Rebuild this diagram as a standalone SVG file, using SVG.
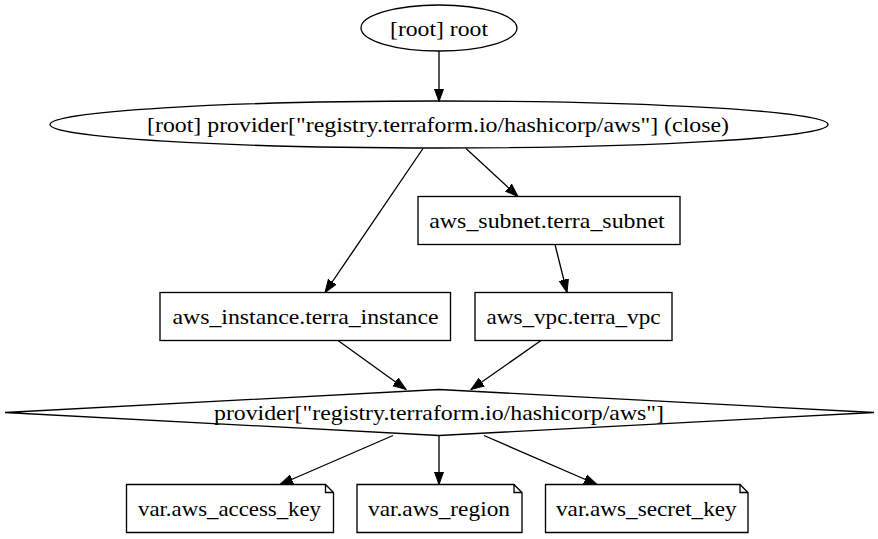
<svg xmlns="http://www.w3.org/2000/svg" width="878" height="539" viewBox="0 0 878 539">
<style>
.n{fill:none;stroke:#000;stroke-width:1.33}
.t{font-family:"Liberation Serif","Times New Roman",serif;font-size:21.5px;text-anchor:middle;fill:#000}
.e{fill:none;stroke:#000;stroke-width:1.33}
</style>
<defs>
<marker id="ah" markerUnits="userSpaceOnUse" markerWidth="14" markerHeight="12" refX="13" refY="5" orient="auto" viewBox="0 0 14 10">
<path d="M0,0.3 L13,5 L0,9.7 Z" fill="#000" stroke="#000" stroke-width="1"/>
</marker>
</defs>
<rect width="878" height="539" fill="#fff"/>
<g id="connectors">
<path class="e" d="M439,51 L439,101.5" marker-end="url(#ah)"/>
<path class="e" d="M423,148.5 L325,292.5" marker-end="url(#ah)"/>
<path class="e" d="M466,148.5 L518,196.5" marker-end="url(#ah)"/>
<path class="e" d="M555,244.5 L567,292.5" marker-end="url(#ah)"/>
<path class="e" d="M338,340.5 L406,389.5" marker-end="url(#ah)"/>
<path class="e" d="M541,340.5 L471,389.5" marker-end="url(#ah)"/>
<path class="e" d="M393,435.5 L280,484.5" marker-end="url(#ah)"/>
<path class="e" d="M439,435.5 L439,484.5" marker-end="url(#ah)"/>
<path class="e" d="M484,435.5 L597,484.5" marker-end="url(#ah)"/>
</g>
<g id="root">
<ellipse class="n" cx="439" cy="28" rx="78" ry="23"/>
<text class="t" x="439" y="35.5" textLength="98" lengthAdjust="spacingAndGlyphs">[root] root</text>
</g>
<g id="provider_close">
<ellipse class="n" cx="439" cy="124.5" rx="389" ry="23.5"/>
<text class="t" x="438" y="132" textLength="582" lengthAdjust="spacingAndGlyphs">[root] provider["registry.terraform.io/hashicorp/aws"] (close)</text>
</g>
<g id="aws_subnet">
<rect class="n" x="418" y="196.5" width="262" height="48"/>
<text class="t" x="547" y="228" textLength="235.5" lengthAdjust="spacingAndGlyphs">aws_subnet.terra_subnet</text>
</g>
<g id="aws_instance">
<rect class="n" x="160" y="292.5" width="290.5" height="48"/>
<text class="t" x="305.5" y="324" textLength="266" lengthAdjust="spacingAndGlyphs">aws_instance.terra_instance</text>
</g>
<g id="aws_vpc">
<rect class="n" x="475" y="292.5" width="197" height="48"/>
<text class="t" x="573.5" y="324" textLength="174" lengthAdjust="spacingAndGlyphs">aws_vpc.terra_vpc</text>
</g>
<g id="provider">
<polygon class="n" points="439,389.5 874,412.5 439,435.5 5,412.5"/>
<text class="t" x="439" y="420" textLength="450" lengthAdjust="spacingAndGlyphs">provider["registry.terraform.io/hashicorp/aws"]</text>
</g>
<g id="var_access_key">
<path class="n" d="M126.5,484.5 H325.5 L333.5,492.5 V532.5 H126.5 Z M325.5,484.5 V492.5 H333.5"/>
<text class="t" x="229.5" y="516" textLength="183" lengthAdjust="spacingAndGlyphs">var.aws_access_key</text>
</g>
<g id="var_region">
<path class="n" d="M357,484.5 H514 L522,492.5 V532.5 H357 Z M514,484.5 V492.5 H522"/>
<text class="t" x="439" y="516" textLength="142" lengthAdjust="spacingAndGlyphs">var.aws_region</text>
</g>
<g id="var_secret_key">
<path class="n" d="M545.5,484.5 H740 L748,492.5 V532.5 H545.5 Z M740,484.5 V492.5 H748"/>
<text class="t" x="646.3" y="516" textLength="180.5" lengthAdjust="spacingAndGlyphs">var.aws_secret_key</text>
</g>
</svg>
